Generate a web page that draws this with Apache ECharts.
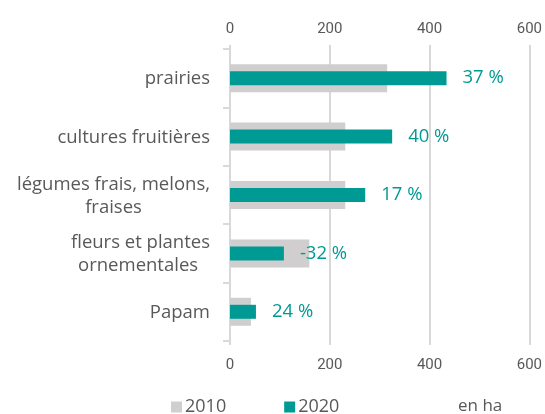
<!DOCTYPE html>
<html>
<head>
<meta charset="utf-8">
<script src="https://cdn.jsdelivr.net/npm/echarts@6/dist/echarts.min.js"></script>
<style>
  html, body { margin: 0; padding: 0; background: #fff; }
  #chart { width: 545px; height: 414px; }
</style>
</head>
<body>
<div id="chart"></div>
<script>
const categories = ['prairies', 'cultures fruitières', 'légumes frais, melons,\nfraises', 'fleurs et plantes\nornementales ', 'Papam'];
const values2010 = [315, 231, 231, 159, 42];
const values2020 = [434, 325, 271, 108, 52];
const growth = [37, 40, 17, -32, 24];
const xTicks = [0, 200, 400, 600];

const GREY = '#d0cece';
const TEAL = '#009a94';
const TEXT = '#595959';
const FONT = '"Open Sans", sans-serif';

const chart = echarts.init(document.getElementById('chart'));

const valueAxis = (pos, margin) => ({
  type: 'value',
  position: pos,
  min: xTicks[0],
  max: xTicks[xTicks.length - 1],
  interval: 200,
  axisLine: { show: false },
  axisTick: { show: true, length: 4, lineStyle: { color: '#d9d9d9', width: 2 } },
  splitLine: { show: pos === 'top', lineStyle: { color: '#d9d9d9', width: 2 } },
  axisLabel: { color: TEXT, fontFamily: 'Roboto, sans-serif', fontSize: 15, margin: margin }
});

chart.setOption({
  animation: false,
  grid: { left: 230, right: 14, top: 49, bottom: 73 },
  xAxis: [valueAxis('top', 12), valueAxis('bottom', 17)],
  yAxis: [
    {
      type: 'category',
      data: categories,
      inverse: true,
      axisLine: { show: true, lineStyle: { color: '#d9d9d9', width: 2 } },
      axisTick: { show: true, length: 7, lineStyle: { color: '#d9d9d9', width: 2 } },
      axisLabel: {
        margin: 20,
        formatter: v => v.split('\n').map(s => '{c|' + s + '}').join('\n'),
        rich: { c: { align: 'center', color: TEXT, fontFamily: FONT, fontSize: 18.5, lineHeight: 23, padding: [2, 0, 0, 0] } }
      }
    },
    {
      type: 'category',
      data: categories,
      inverse: true,
      show: false
    }
  ],
  legend: {
    left: 166,
    top: 393,
    itemWidth: 11,
    itemHeight: 11,
    itemGap: 58,
    icon: 'rect',
    textStyle: { color: TEXT, fontFamily: FONT, fontSize: 18, padding: [0, 0, 0, -2] },
    data: ['2010', '2020']
  },
  graphic: [{
    type: 'text',
    left: 458,
    top: 398,
    style: { text: 'en ha', fill: TEXT, font: '17px "Open Sans", sans-serif' }
  }],
  series: [
    {
      name: '2010',
      type: 'bar',
      xAxisIndex: 0,
      yAxisIndex: 0,
      barWidth: 28,
      itemStyle: { color: GREY },
      data: values2010
    },
    {
      name: '2020',
      type: 'bar',
      xAxisIndex: 0,
      yAxisIndex: 1,
      barWidth: 14,
      itemStyle: { color: TEAL },
      label: {
        show: true,
        position: 'right',
        distance: 16,
        color: TEAL,
        fontFamily: FONT,
        fontSize: 18.5,
        formatter: p => growth[p.dataIndex] + ' %'
      },
      data: values2020
    }
  ]
});
</script>
</body>
</html>
